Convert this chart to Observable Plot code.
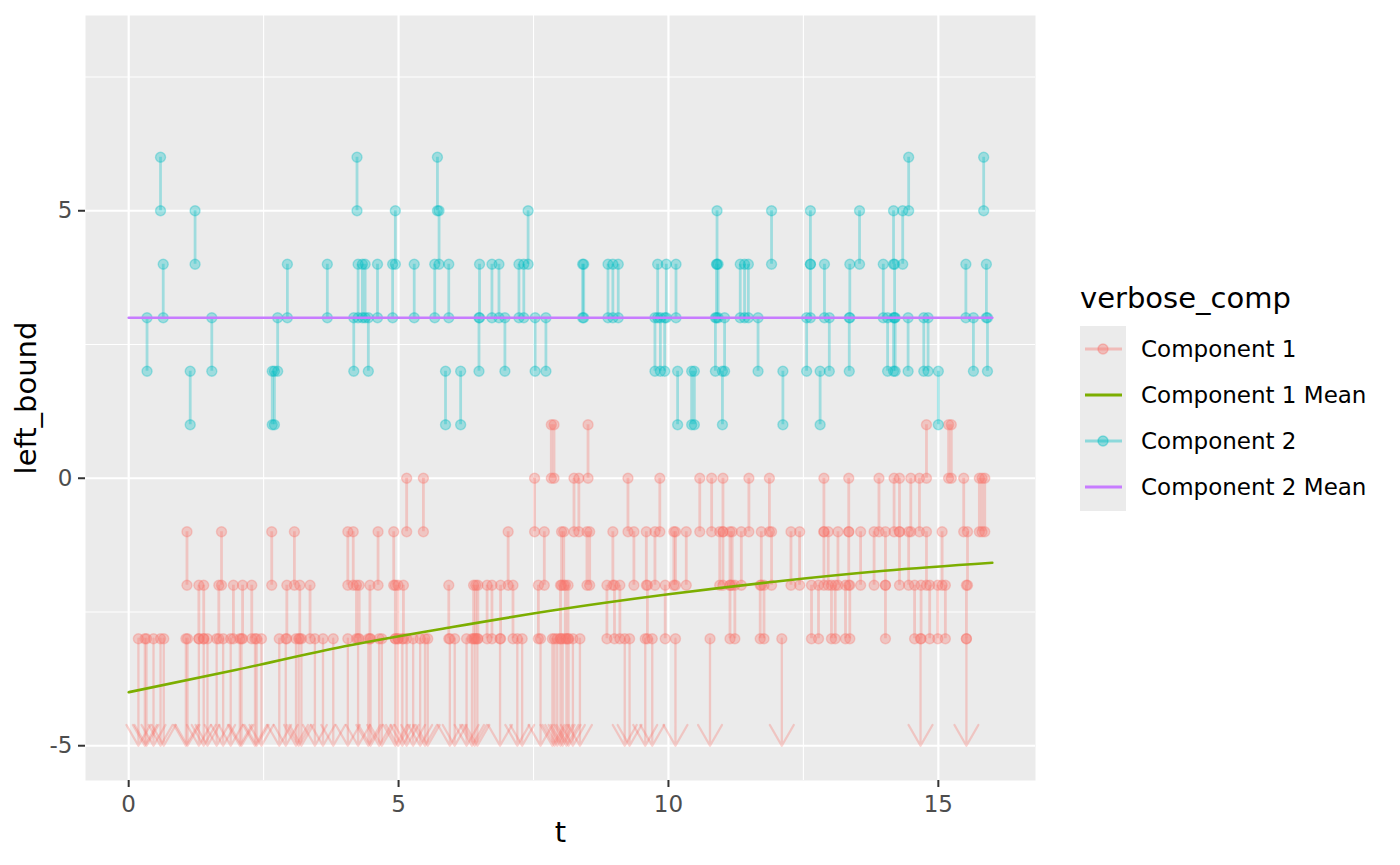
<!DOCTYPE html>
<html><head><meta charset="utf-8">
<script src="https://cdn.jsdelivr.net/npm/d3@7"></script>
<script src="https://cdn.jsdelivr.net/npm/@observablehq/plot@0.6"></script>
<style>
body{margin:0;background:#fff;font-family:"DejaVu Sans",sans-serif;}
#wrap{position:relative;width:1400px;height:865px;}
#legend{position:absolute;left:1070px;top:270px;}
</style></head><body>
<div id="wrap"><div id="chart"></div>
<svg id="legend" width="330" height="260" font-family="DejaVu Sans"></svg>
</div>
<script>
// ---- Component 1 (red): interval [lb, lb+1] by left bound ----
const comp1_lb0 = [7.83, 7.88, 8.51, 14.78, 15.19, 15.24];
const comp1_lbm1 = [5.15, 5.46, 7.52, 8.25, 8.34, 9.25, 9.84, 10.58, 10.80, 11.01, 11.49, 11.87, 12.88, 13.34, 13.90, 14.18, 14.28, 14.49, 14.65, 15.47, 15.76, 15.81, 15.86];
const comp1_lbm2 = [1.08, 1.72, 2.65, 3.07, 4.06, 4.16, 4.62, 4.91, 7.03, 7.70, 8.02, 8.06, 8.49, 8.54, 8.97, 9.36, 9.59, 9.75, 10.10, 10.13, 10.33, 10.95, 11.01, 11.14, 11.18, 11.35, 11.72, 11.91, 12.27, 12.43, 12.88, 12.96, 13.14, 13.34, 13.56, 13.81, 14.02, 14.28, 14.45, 14.78, 15.07, 15.54];
const comp1_lbm3 = [1.30, 1.39, 1.67, 1.94, 2.11, 2.28, 2.93, 3.17, 3.36, 4.22, 4.27, 4.47, 4.94, 4.99, 5.09, 5.93, 6.39, 6.43, 6.47, 6.64, 6.73, 6.89, 7.12, 7.59, 8.00, 8.09, 8.14, 8.86, 9.00, 9.10, 9.61, 9.94, 11.14, 11.23, 11.70, 11.77, 12.65, 12.78, 13.02, 13.09, 13.28, 13.36, 14.02, 14.56, 14.68, 14.84, 14.99, 15.13, 15.52];
// left-censored observations (upper bound -3, arrow downward)
const comp1_censored = [0.18, 0.30, 0.33, 0.46, 0.59, 0.65, 1.06, 1.09, 1.30, 1.39, 1.46, 1.63, 1.75, 1.89, 2.06, 2.09, 2.34, 2.37, 2.46, 2.79, 2.91, 3.10, 3.15, 3.20, 3.45, 3.60, 3.79, 4.06, 4.25, 4.44, 4.48, 4.64, 4.69, 4.94, 4.99, 5.07, 5.15, 5.27, 5.40, 5.49, 5.54, 5.95, 6.04, 6.26, 6.36, 6.41, 6.46, 6.88, 7.20, 7.29, 7.63, 7.85, 7.89, 7.94, 8.00, 8.04, 8.11, 8.15, 8.23, 8.36, 9.19, 9.28, 9.57, 9.70, 10.13, 10.77, 12.10, 14.67, 15.52];
const censorUpper = -3;
const censorArrowEnd = -5;

// ---- Component 2 (cyan): interval [lb, lb+1] by left bound ----
const comp2_lb1 = [1.14, 2.66, 2.70, 5.87, 6.15, 10.17, 10.43, 10.48, 11.00, 12.12, 12.81, 15.00];
const comp2_lb2 = [0.34, 1.54, 2.76, 4.17, 4.44, 6.49, 6.97, 7.53, 7.73, 9.75, 9.85, 9.93, 10.87, 11.04, 11.66, 12.56, 12.98, 13.35, 14.06, 14.17, 14.20, 14.44, 14.73, 14.81, 15.65, 15.91];
const comp2_lb3 = [0.64, 2.94, 3.68, 4.25, 4.33, 4.38, 4.61, 4.89, 5.29, 5.67, 5.93, 6.50, 6.73, 6.86, 7.23, 7.32, 8.41, 8.43, 8.88, 8.97, 9.07, 9.80, 9.96, 10.14, 10.89, 10.92, 11.33, 11.41, 11.48, 12.63, 12.89, 13.36, 13.98, 14.19, 15.51, 15.89];
const comp2_lb4 = [1.23, 4.94, 5.75, 7.40, 10.90, 11.91, 12.63, 13.54, 14.17, 14.34];
const comp2_lb5 = [0.59, 4.23, 5.72, 14.45, 15.84];

// ---- Means ----
const mean1T = [0, 2, 4, 6, 8, 10, 12, 14, 16];
const mean1V = [-4.0, -3.58, -3.14, -2.78, -2.45, -2.17, -1.93, -1.73, -1.58];
const mean2T = [0, 16];
const mean2V = [3, 3];

// ---- Axes ----
const xTicks = [0, 5, 10, 15];
const xTickLabels = ["0", "5", "10", "15"];
const xMinor = [2.5, 7.5, 12.5];
const yTicks = [-5, 0, 5];
const yTickLabels = ["-5", "0", "5"];
const yMinor = [-2.5, 2.5, 7.5];

const legendTitle = "verbose_comp";
const legendLabels = ["Component 1", "Component 1 Mean", "Component 2", "Component 2 Mean"];

const RED = "#F8766D", CYAN = "#00BFC4", GREEN = "#7CAE00", PURPLE = "#C77CFF";

function intervals(groups) {
  return groups.flatMap(([lo, ts]) => ts.map(t => ({t, lo, hi: lo + 1})));
}
const c1 = intervals([[0, comp1_lb0], [-1, comp1_lbm1], [-2, comp1_lbm2], [-3, comp1_lbm3]]);
const c2 = intervals([[1, comp2_lb1], [2, comp2_lb2], [3, comp2_lb3], [4, comp2_lb4], [5, comp2_lb5]]);
const cens = comp1_censored.map(t => ({t, hi: censorUpper, end: censorArrowEnd}));
const m1 = mean1T.map((t, i) => ({t, v: mean1V[i]}));
const m2 = mean2T.map((t, i) => ({t, v: mean2V[i]}));

const AL = 0.32;
const pt = c => ({r: 5, fill: c, fillOpacity: AL, stroke: c, strokeOpacity: AL, strokeWidth: 1.4});
const seg = c => ({stroke: c, strokeOpacity: AL, strokeWidth: 2.8});

const plot = Plot.plot({
  width: 1400, height: 865,
  marginLeft: 85, marginRight: 365, marginTop: 15, marginBottom: 85,
  x: {domain: [-0.8, 16.8]},
  y: {domain: [-5.65, 8.65]},
  style: {fontFamily: "DejaVu Sans", fontSize: "23px", background: "#fff"},
  marks: [
    Plot.frame({fill: "#EBEBEB", stroke: "none"}),
    Plot.ruleX(xMinor, {stroke: "#fff", strokeWidth: 1.1}),
    Plot.ruleY(yMinor, {stroke: "#fff", strokeWidth: 1.1}),
    Plot.ruleX(xTicks, {stroke: "#fff", strokeWidth: 2.2}),
    Plot.ruleY(yTicks, {stroke: "#fff", strokeWidth: 2.2}),
    // Component 1
    Plot.ruleX(c1, {x: "t", y1: "lo", y2: "hi", ...seg(RED)}),
    Plot.arrow(cens, {x1: "t", x2: "t", y1: "hi", y2: "end", stroke: RED, strokeOpacity: AL, strokeWidth: 2.3, headLength: 15.6, headAngle: 60}),
    Plot.dot(c1, {x: "t", y: "lo", ...pt(RED)}),
    Plot.dot(c1, {x: "t", y: "hi", ...pt(RED)}),
    Plot.dot(cens, {x: "t", y: "hi", ...pt(RED)}),
    // Component 2
    Plot.ruleX(c2, {x: "t", y1: "lo", y2: "hi", ...seg(CYAN)}),
    Plot.dot(c2, {x: "t", y: "lo", ...pt(CYAN)}),
    Plot.dot(c2, {x: "t", y: "hi", ...pt(CYAN)}),
    // Means
    Plot.line(m1, {x: "t", y: "v", stroke: GREEN, strokeWidth: 2.6, curve: "monotone-x"}),
    Plot.line(m2, {x: "t", y: "v", stroke: PURPLE, strokeWidth: 2.6}),
    // Axes
    Plot.axisX({ticks: xTicks, tickFormat: d => xTickLabels[xTicks.indexOf(d)], tickSize: 7, tickPadding: 8, stroke: "#333333", strokeWidth: 2, fill: "#4D4D4D", label: null}),
    Plot.axisY({ticks: yTicks, tickFormat: d => yTickLabels[yTicks.indexOf(d)], tickSize: 7, tickPadding: 6, stroke: "#333333", strokeWidth: 2, fill: "#4D4D4D", label: null}),
    Plot.text(["t"], {text: d => d, frameAnchor: "bottom", dy: 61, fill: "#000", fontSize: 29}),
    Plot.text(["left_bound"], {text: d => d, frameAnchor: "left", textAnchor: "middle", dx: -59, rotate: -90, fill: "#000", fontSize: 29})
  ]
});
document.getElementById("chart").appendChild(plot);

// ---- Legend ----
const lg = d3.select("#legend");
lg.append("text").attr("x", 10).attr("y", 38).attr("font-size", 29).attr("fill", "#000").text(legendTitle);
lg.append("rect").attr("x", 10).attr("y", 56).attr("width", 46).attr("height", 185).attr("fill", "#EBEBEB");
const keys = [
  {c: RED, dot: true, a: 0.4},
  {c: GREEN, dot: false, a: 1},
  {c: CYAN, dot: true, a: 0.4},
  {c: PURPLE, dot: false, a: 1}
];
keys.forEach((k, i) => {
  const cy = 79 + i * 46;
  lg.append("line").attr("x1", 15).attr("x2", 52).attr("y1", cy).attr("y2", cy)
    .attr("stroke", k.c).attr("stroke-opacity", k.a).attr("stroke-width", 2.8);
  if (k.dot) {
    lg.append("circle").attr("cx", 33).attr("cy", cy).attr("r", 5)
      .attr("fill", k.c).attr("fill-opacity", k.a).attr("stroke", k.c).attr("stroke-opacity", k.a).attr("stroke-width", 1.4);
  }
  lg.append("text").attr("x", 71).attr("y", cy).attr("dy", "0.36em").attr("font-size", 23).attr("fill", "#000").text(legendLabels[i]);
});
</script>
</body></html>
